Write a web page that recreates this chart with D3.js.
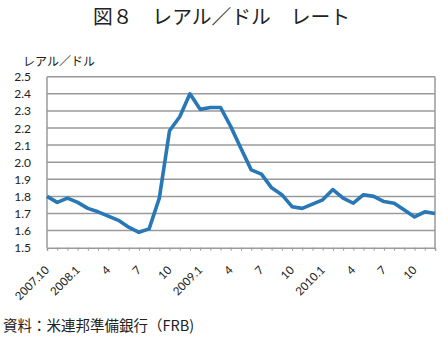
<!DOCTYPE html>
<html><head><meta charset="utf-8">
<script src="https://cdn.jsdelivr.net/npm/d3@7"></script>
<style>body{margin:0;background:#fff}svg{display:block}text{font-family:"Noto Sans CJK JP","Noto Sans",sans-serif;fill:#222}.num{font-family:Lato,"Open Sans",sans-serif}</style>
</head><body><svg id="c" width="442" height="340"></svg>
<script>
const months = ["2007.10","11","12","2008.1","2","3","4","5","6","7","8","9","10","11","12",
"2009.1","2","3","4","5","6","7","8","9","10","11","12",
"2010.1","2","3","4","5","6","7","8","9","10","11","12"];
const rates = [1.80,1.765,1.79,1.765,1.73,1.71,1.685,1.66,1.62,1.59,1.61,1.79,2.184,2.266,2.40,2.309,2.32,2.32,2.208,2.08,1.955,1.93,1.85,1.81,1.74,1.73,1.755,1.78,1.84,1.79,1.76,1.81,1.80,1.77,1.76,1.72,1.68,1.71,1.70];
const labelIdx = [0,3,6,9,12,15,18,21,24,27,30,33,36];
const xLabels = ["2007.10","2008.1","4","7","10","2009.1","4","7","10","2010.1","4","7","10"];
const yTicks = [1.5,1.6,1.7,1.8,1.9,2.0,2.1,2.2,2.3,2.4,2.5];

const svg = d3.select("#c");
const L=47,R=435,T=76.7,B=247.7;
const x = d3.scaleLinear().domain([0,months.length-1]).range([L,R]);
const y = d3.scaleLinear().domain([1.5,2.5]).range([B,T]);

svg.append("text").attr("x",221.5).attr("y",23.5).attr("text-anchor","middle").attr("font-size",19.8).text("図８　レアル／ドル　レート");
svg.append("text").attr("x",23).attr("y",65.5).attr("font-size",12).text("レアル／ドル");

// grid
svg.append("g").selectAll("line").data(yTicks.filter(d=>d>1.5)).join("line")
 .attr("x1",L).attr("x2",R).attr("y1",d=>y(d)).attr("y2",d=>y(d)).attr("stroke","#9a9a9a").attr("stroke-width",1.5);
svg.append("line").attr("x1",L).attr("x2",L).attr("y1",T).attr("y2",B).attr("stroke","#9a9a9a").attr("stroke-width",1.5);
svg.append("line").attr("x1",R).attr("x2",R).attr("y1",T).attr("y2",B).attr("stroke","#9a9a9a").attr("stroke-width",1.5);

// y axis labels
svg.append("g").selectAll("text").data(yTicks).join("text").attr("class","num")
 .attr("x",31).attr("y",d=>y(d)+4.5).attr("text-anchor","end").attr("font-size",12).text(d=>d.toFixed(1));

// x axis
const xa = d3.axisBottom(x).tickValues(d3.range(months.length)).tickSize(3).tickFormat("");
const gx = svg.append("g").attr("transform",`translate(0,${B})`).call(xa);
gx.select(".domain").attr("stroke","#9a9a9a").attr("stroke-width",1.5);
gx.selectAll(".tick line").attr("stroke","#9a9a9a");

svg.append("g").selectAll("text").data(labelIdx).join("text").attr("class","num")
 .attr("transform",(d)=>`translate(${x(d)+3},${B+23})`+" rotate(-45)")
 .attr("text-anchor","end").attr("font-size",11.5).text((d,i)=>xLabels[i]);

// line
svg.append("path").datum(rates).attr("fill","none").attr("stroke","#2877b6").attr("stroke-width",3.6)
 .attr("stroke-linejoin","round")
 .attr("d",d3.line().x((d,i)=>x(i)).y(d=>y(d)));

svg.append("text").attr("x",3).attr("y",331).attr("font-size",14.5).text("資料：米連邦準備銀行（FRB)");
</script></body></html>
